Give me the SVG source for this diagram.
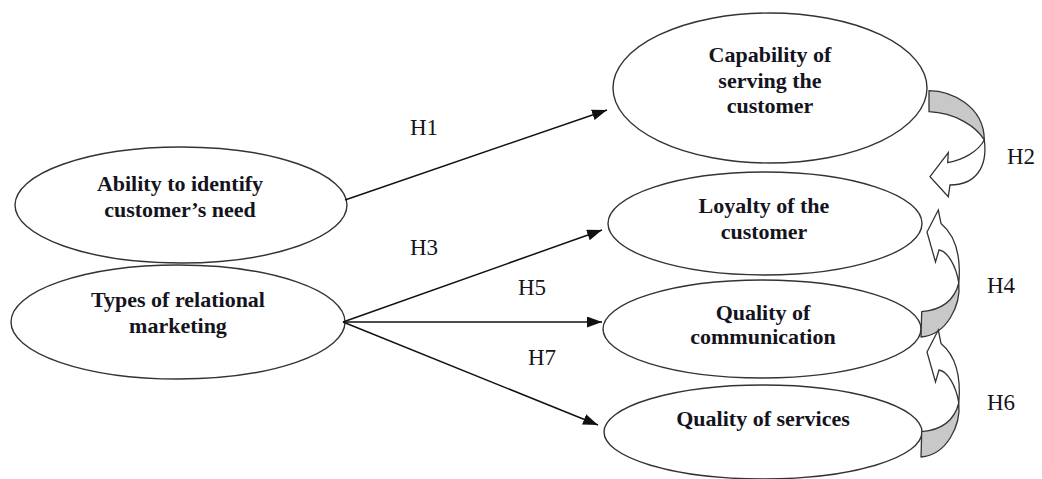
<svg xmlns="http://www.w3.org/2000/svg" width="1042" height="479" viewBox="0 0 1042 479">
  <style>
    .node ellipse { fill: #ffffff; stroke: #333333; stroke-width: 1.4; }
    .label { font-family: "Liberation Serif", "Times New Roman", serif; font-weight: bold; font-size: 22px; fill: #141420; text-anchor: middle; }
    .hyp { font-family: "Liberation Serif", "Times New Roman", serif; font-size: 23px; fill: #141420; }
    .link { stroke: #111111; stroke-width: 1.5; fill: none; marker-end: url(#head); }
    .back { fill: #c8c8c8; stroke: #333333; stroke-width: 1.3; stroke-linejoin: round; }
    .front { fill: #ffffff; stroke: #333333; stroke-width: 1.3; stroke-linejoin: miter; }
  </style>
  <defs>
    <marker id="head" markerUnits="userSpaceOnUse" markerWidth="16" markerHeight="12" refX="15" refY="5.5" orient="auto">
      <path d="M0,0 L15,5.5 L0,11 Z" fill="#111111"/>
    </marker>
  </defs>

  <rect width="1042" height="479" fill="#ffffff"/>

  <!-- source constructs -->
  <g id="ability" class="node">
    <ellipse cx="181" cy="205" rx="166" ry="58"/>
    <text class="label" x="180" y="191">Ability to identify</text>
    <text class="label" x="180" y="217">customer’s need</text>
  </g>
  <g id="types" class="node">
    <ellipse cx="178" cy="322" rx="167" ry="57"/>
    <text class="label" x="178" y="307">Types of relational</text>
    <text class="label" x="178" y="333">marketing</text>
  </g>

  <!-- outcome constructs -->
  <g id="capability" class="node">
    <ellipse cx="770" cy="88" rx="157" ry="75"/>
    <text class="label" x="770" y="62">Capability of</text>
    <text class="label" x="770" y="88">serving the</text>
    <text class="label" x="770" y="113">customer</text>
  </g>
  <g id="loyalty" class="node">
    <ellipse cx="765" cy="223.5" rx="157" ry="51.5"/>
    <text class="label" x="764" y="213">Loyalty of the</text>
    <text class="label" x="764" y="239">customer</text>
  </g>
  <g id="communication" class="node">
    <ellipse cx="762" cy="329" rx="159" ry="49"/>
    <text class="label" x="763" y="320">Quality of</text>
    <text class="label" x="763" y="344">communication</text>
  </g>
  <g id="services" class="node">
    <ellipse cx="763" cy="432" rx="159" ry="47"/>
    <text class="label" x="763" y="426">Quality of services</text>
  </g>

  <!-- straight hypothesis arrows -->
  <g id="connectors">
    <line class="link" x1="345" y1="200" x2="607" y2="110"/>
    <line class="link" x1="343" y1="322" x2="602" y2="230"/>
    <line class="link" x1="343" y1="322" x2="602" y2="322"/>
    <line class="link" x1="343" y1="322" x2="598" y2="425"/>

    <!-- H2: curved block arrow from capability down to loyalty -->
    <g id="curve-h2">
      <path class="back" d="M929,90.7 C950,91 984,105 984.3,140 C976,126 955,113 929,111.7 Z"/>
      <path class="front" d="M930,176.7 L948.3,152.7 L947.7,162.7 C962,160 978,152 984.3,140 C988,168 975,185 950,185 L948.3,196.7 Z"/>
    </g>
    <!-- H4: curved block arrow from communication up to loyalty -->
    <g id="curve-h4">
      <path class="back" d="M921.7,311.7 C940,310 954,302 958.8,283 C961,305 947,335 921,337 Z"/>
      <path class="front" d="M938.3,210 L927,232 L935.5,262 L939,250 C947,251 956,265 958.8,283 C961,258 956,236 941,223.5 Z"/>
    </g>
    <!-- H6: same shape, from services up to communication -->
    <g id="curve-h6" transform="translate(0,120)">
      <path class="back" d="M921.7,311.7 C940,310 954,302 958.8,283 C961,305 947,335 921,337 Z"/>
      <path class="front" d="M938.3,210 L927,232 L935.5,262 L939,250 C947,251 956,265 958.8,283 C961,258 956,236 941,223.5 Z"/>
    </g>
  </g>

  <!-- hypothesis labels -->
  <g id="hypotheses">
    <text class="hyp" x="410" y="135">H1</text>
    <text class="hyp" x="1007" y="164">H2</text>
    <text class="hyp" x="410" y="255">H3</text>
    <text class="hyp" x="987" y="293">H4</text>
    <text class="hyp" x="518" y="295">H5</text>
    <text class="hyp" x="987" y="410">H6</text>
    <text class="hyp" x="528" y="365">H7</text>
  </g>
</svg>
